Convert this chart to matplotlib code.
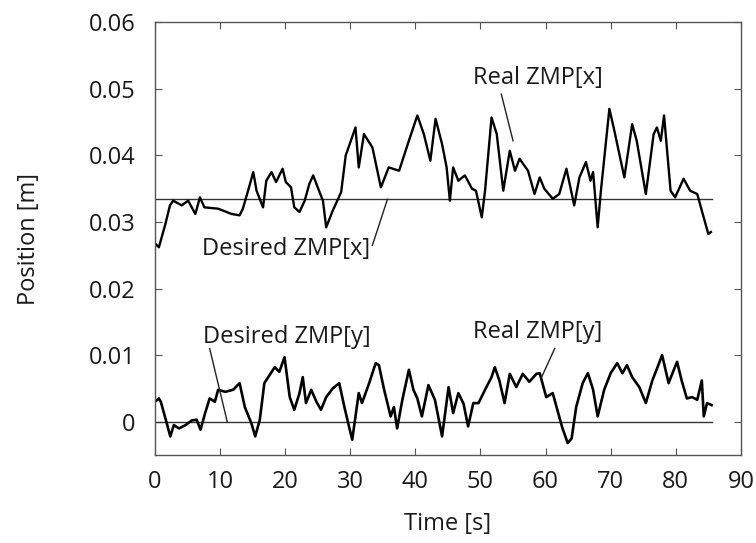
import numpy as np
import matplotlib.pyplot as plt

plt.rcParams['font.family'] = ['Open Sans', 'DejaVu Sans']

# Real ZMP[x] (time [s], position [m])
t_x = [0.0, 0.6, 1.6, 2.3, 2.8, 4.1, 5.1, 6.2, 6.9, 7.6, 9.7, 11.8, 13.0, 13.5,
       14.3, 15.1, 15.6, 16.6, 17.1, 17.9, 18.6, 19.6, 20.1, 20.9, 21.4, 22.2,
       23.0, 23.7, 24.3, 25.0, 25.8, 26.3, 27.3, 28.0, 28.6, 29.3, 30.8, 31.3,
       32.1, 33.4, 34.7, 35.9, 37.5, 39.0, 40.3, 41.3, 42.3, 43.1, 44.1, 44.8,
       45.3, 45.8, 46.6, 47.6, 48.7, 49.3, 50.2, 50.7, 51.7, 52.5, 53.5, 54.5,
       55.3, 56.0, 57.3, 58.3, 59.1, 59.8, 61.1, 62.1, 63.2, 64.4, 65.2, 66.2,
       66.9, 67.3, 68.0, 68.5, 69.8, 70.5, 72.1, 73.3, 74.0, 75.4, 76.6, 77.1,
       77.7, 78.2, 79.2, 79.9, 81.2, 82.2, 83.3, 84.0, 85.0, 85.4]
zmp_x = [0.0268, 0.0262, 0.0297, 0.0325, 0.0332, 0.0325, 0.0332, 0.0312, 0.0337,
         0.0322, 0.0320, 0.0312, 0.0310, 0.0320, 0.0347, 0.0375, 0.0347, 0.0322,
         0.0362, 0.0375, 0.0360, 0.0380, 0.0360, 0.0352, 0.0322, 0.0315, 0.0332,
         0.0357, 0.0370, 0.0352, 0.0332, 0.0292, 0.0317, 0.0332, 0.0345, 0.0400,
         0.0442, 0.0382, 0.0432, 0.0412, 0.0352, 0.0382, 0.0377, 0.0422, 0.0460,
         0.0432, 0.0392, 0.0455, 0.0417, 0.0382, 0.0332, 0.0382, 0.0362, 0.0370,
         0.0350, 0.0347, 0.0307, 0.0347, 0.0457, 0.0432, 0.0347, 0.0407, 0.0377,
         0.0395, 0.0377, 0.0342, 0.0367, 0.0350, 0.0335, 0.0342, 0.0380, 0.0325,
         0.0367, 0.0390, 0.0362, 0.0375, 0.0292, 0.0347, 0.0470, 0.0440, 0.0367,
         0.0447, 0.0422, 0.0342, 0.0432, 0.0442, 0.0422, 0.0460, 0.0347, 0.0337,
         0.0365, 0.0347, 0.0342, 0.0317, 0.0282, 0.0285]

# Real ZMP[y]
t_y = [0.0, 0.6, 0.9, 1.8, 2.35, 2.9, 3.7, 4.7, 5.65, 6.4, 7.0, 7.7, 8.4, 9.2,
       9.7, 10.8, 12.0, 13.0, 13.8, 14.8, 15.4, 16.1, 16.8, 17.4, 18.4, 19.1,
       19.9, 20.7, 21.4, 22.2, 22.7, 23.2, 24.0, 24.8, 25.5, 26.3, 27.3, 28.3,
       29.1, 29.8, 30.3, 31.3, 31.8, 32.9, 33.9, 34.4, 35.2, 36.2, 36.7, 37.2,
       38.0, 39.0, 39.7, 40.3, 41.0, 42.0, 43.0, 44.1, 45.1, 45.8, 46.6, 47.4,
       48.1, 48.9, 49.7, 50.7, 51.7, 52.2, 52.9, 53.7, 54.5, 55.5, 56.5, 57.5,
       58.6, 59.1, 60.1, 61.1, 61.8, 62.6, 63.4, 64.0, 64.7, 65.7, 66.5, 67.3,
       68.0, 69.0, 70.0, 71.0, 71.8, 72.5, 73.3, 74.4, 75.4, 76.4, 77.2, 77.9,
       78.9, 79.7, 80.2, 80.9, 81.7, 82.5, 83.3, 84.0, 84.3, 84.8, 85.5]
zmp_y = [0.0030, 0.0035, 0.0030, -0.0002, -0.0022, -0.0005, -0.0010, -0.0005,
         0.0002, 0.0003, -0.0012, 0.0013, 0.0035, 0.0030, 0.0048, 0.0045, 0.0048,
         0.0058, 0.0022, -0.0002, -0.0022, 0.0003, 0.0058, 0.0067, 0.0082, 0.0075,
         0.0097, 0.0037, 0.0018, 0.0043, 0.0067, 0.0028, 0.0048, 0.0030, 0.0018,
         0.0037, 0.0050, 0.0058, 0.0022, -0.0007, -0.0027, 0.0043, 0.0028, 0.0058,
         0.0088, 0.0085, 0.0048, 0.0008, 0.0022, -0.0010, 0.0033, 0.0078, 0.0048,
         0.0035, 0.0008, 0.0055, 0.0033, -0.0022, 0.0052, 0.0013, 0.0043, 0.0027,
         -0.0007, 0.0028, 0.0028, 0.0048, 0.0067, 0.0082, 0.0062, 0.0028, 0.0072,
         0.0052, 0.0072, 0.0060, 0.0072, 0.0073, 0.0037, 0.0043, 0.0018, -0.0010,
         -0.0032, -0.0025, 0.0022, 0.0058, 0.0073, 0.0048, 0.0008, 0.0048, 0.0073,
         0.0088, 0.0073, 0.0085, 0.0067, 0.0052, 0.0028, 0.0062, 0.0082, 0.0100,
         0.0058, 0.0078, 0.0090, 0.0062, 0.0035, 0.0037, 0.0033, 0.0062, 0.0008,
         0.0028, 0.0025]

# Desired ZMP (constant references)
t_des = [0.0, 85.5]
des_x = [0.0334, 0.0334]
des_y = [0.0, 0.0]

fig = plt.figure(figsize=(7.56, 5.43), dpi=100)
ax = fig.add_axes([0.205, 0.162, 0.775, 0.797])

ax.plot(t_des, des_x, color='#333333', lw=1.0)
ax.plot(t_des, des_y, color='#333333', lw=1.0)
ax.plot(t_x, zmp_x, color='black', lw=1.7)
ax.plot(t_y, zmp_y, color='black', lw=1.9)

ax.set_xlim(0, 90)
ax.set_ylim(-0.005, 0.06)
ax.set_xticks(np.arange(0, 91, 10))
ax.set_yticks([0, 0.01, 0.02, 0.03, 0.04, 0.05, 0.06])
ax.set_yticklabels(['0', '0.01', '0.02', '0.03', '0.04', '0.05', '0.06'])
ax.tick_params(direction='in', top=True, right=True, length=5, width=0.8,
               color='#555555', labelsize=17, labelcolor='#1a1a1a')
ax.tick_params(axis='x', pad=11)
ax.tick_params(axis='y', pad=14)
for s in ax.spines.values():
    s.set_color('#555555')
    s.set_linewidth(1.0)

ax.set_xlabel('Time [s]', fontsize=17, color='#1a1a1a', labelpad=13)
ax.set_ylabel('Position [m]', fontsize=17, color='#1a1a1a', labelpad=34)

# annotations with leader lines
ann = dict(fontsize=17, color='#1a1a1a')
ax.text(58.8, 0.0517, 'Real ZMP[x]', ha='center', va='center', **ann)
ax.plot([53.2, 55.0], [0.0492, 0.0422], color='#222222', lw=1.0)
ax.text(20.2, 0.0260, 'Desired ZMP[x]', ha='center', va='center', **ann)
ax.plot([33.4, 35.7], [0.0265, 0.0334], color='#222222', lw=1.0)
ax.text(20.2, 0.0127, 'Desired ZMP[y]', ha='center', va='center', **ann)
ax.plot([8.4, 11.1], [0.0110, 0.0], color='#222222', lw=1.0)
ax.text(58.8, 0.0135, 'Real ZMP[y]', ha='center', va='center', **ann)
ax.plot([61.4, 59.3], [0.0110, 0.0065], color='#222222', lw=1.0)

fig.savefig('out.png', dpi=100)
